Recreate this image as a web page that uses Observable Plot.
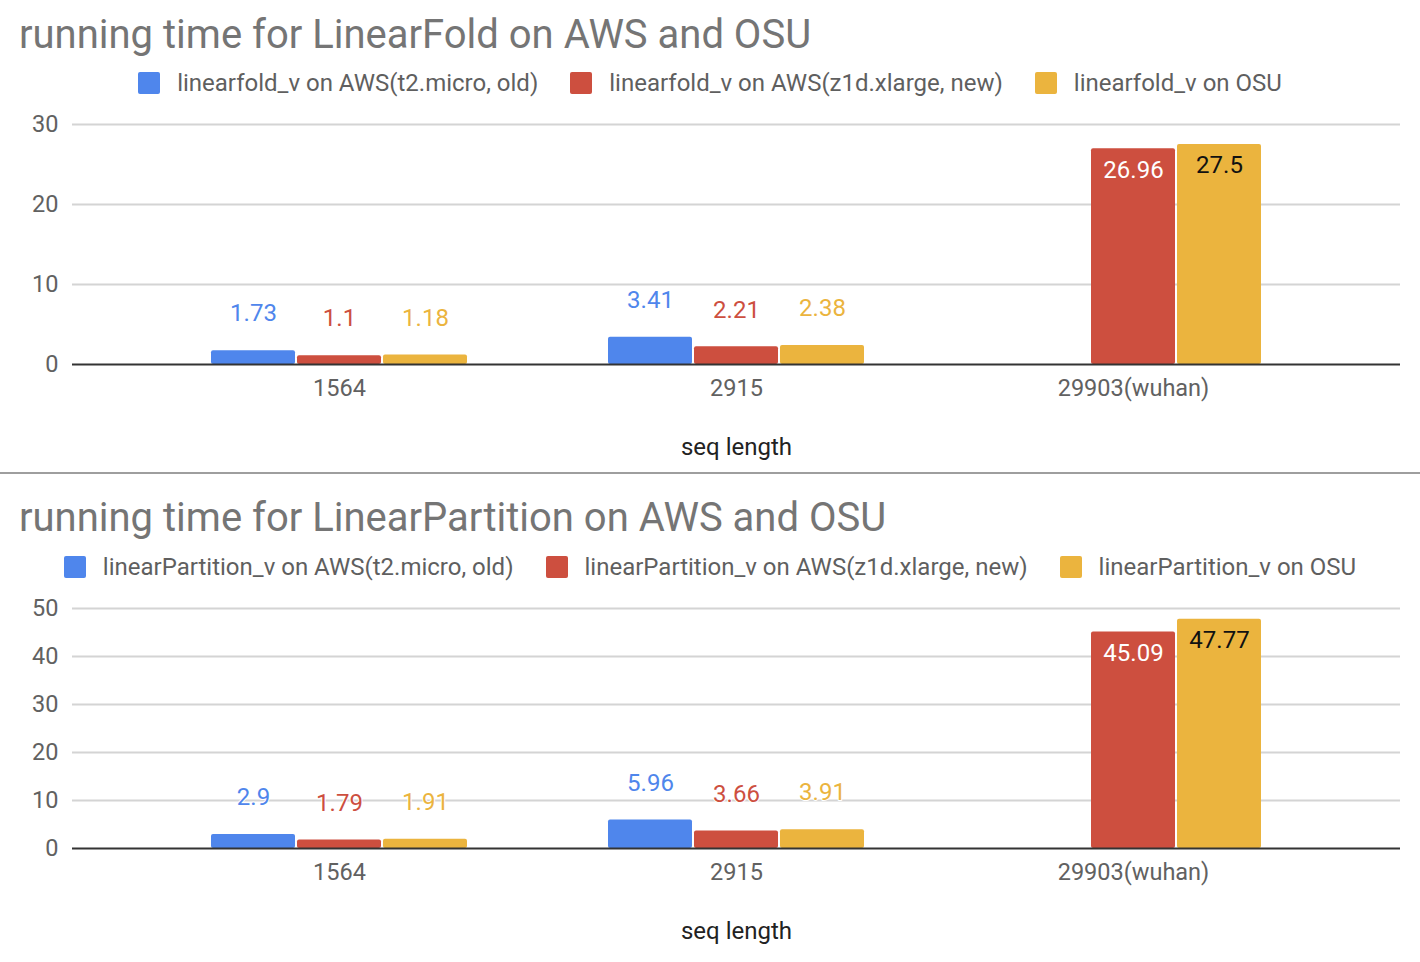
<!DOCTYPE html>
<html>
<head>
<meta charset="utf-8">
<script src="https://cdn.jsdelivr.net/npm/d3@7"></script>
<script src="https://cdn.jsdelivr.net/npm/@observablehq/plot@0.6"></script>
<style>
  html, body { margin: 0; padding: 0; background: #fff; }
  #root { position: relative; width: 1420px; height: 962px; overflow: hidden; font-family: Roboto, "Noto Sans", sans-serif; }
  .title { position: absolute; left: 19px; font-size: 40px; line-height: 40px; color: #757575; white-space: nowrap; }
  .legend { position: absolute; left: 0; width: 1420px; display: flex; justify-content: center; align-items: center; font-size: 24px; line-height: 24px; color: #5f5f5f; white-space: nowrap; }
  .legend .item { display: flex; align-items: center; margin: 0 16px; }
  .legend .sw { width: 22px; height: 22px; border-radius: 2px; margin-right: 17px; }
  .chart { position: absolute; left: 0; }
  .sep { position: absolute; left: 0; width: 1420px; height: 2px; background: #9e9e9e; }
</style>
</head>
<body>
<div id="root"></div>
<script>
// ---------- data ----------
const categories = ["1564", "2915", "29903(wuhan)"];

const foldTitle = "running time for LinearFold on AWS and OSU";
const foldSeries = ["linearfold_v on AWS(t2.micro, old)", "linearfold_v on AWS(z1d.xlarge, new)", "linearfold_v on OSU"];
const foldAwsOld = [1.73, 3.41, null];
const foldAwsNew = [1.1, 2.21, 26.96];
const foldOsu = [1.18, 2.38, 27.5];
const foldTicks = [0, 10, 20, 30];

const partTitle = "running time for LinearPartition on AWS and OSU";
const partSeries = ["linearPartition_v on AWS(t2.micro, old)", "linearPartition_v on AWS(z1d.xlarge, new)", "linearPartition_v on OSU"];
const partAwsOld = [2.9, 5.96, null];
const partAwsNew = [1.79, 3.66, 45.09];
const partOsu = [1.91, 3.91, 47.77];
const partTicks = [0, 10, 20, 30, 40, 50];

const xLabel = "seq length";
const colors = ["#4f86ec", "#cd4f3f", "#ebb43e"];
const insideText = ["#ffffff", "#ffffff", "#111111"];

// ---------- layout helpers ----------
const root = document.getElementById("root");
function addDiv(cls, top, html) {
  const d = document.createElement("div");
  d.className = cls;
  d.style.top = top + "px";
  if (html != null) d.innerHTML = html;
  root.appendChild(d);
  return d;
}
function addLegend(top, series) {
  const lg = addDiv("legend", top);
  series.forEach((s, j) => {
    const it = document.createElement("div");
    it.className = "item";
    const sw = document.createElement("div");
    sw.className = "sw";
    sw.style.background = colors[j];
    const tx = document.createElement("span");
    tx.textContent = s;
    it.appendChild(sw); it.appendChild(tx);
    lg.appendChild(it);
  });
}

function makeChart(series, valueArrays, ticks, height, marginBottom) {
  const rows = [];
  categories.forEach((c, i) => series.forEach((s, j) => {
    const v = valueArrays[j][i];
    if (v != null) rows.push({category: c, series: s, j, value: v});
  }));
  const yMax = ticks[ticks.length - 1];
  const barW = 84, gap = 2;
  const marks = [
    Plot.ruleY(ticks.filter(t => t !== 0), {stroke: "#d4d4d4", strokeWidth: 2})
  ];
  [0, 1, 2].forEach(j => {
    const sub = rows.filter(d => d.j === j);
    marks.push(Plot.barY(sub, {
      x: "category", y: "value", fill: colors[j], rx: 2,
      insetLeft: j * (barW + gap), insetRight: (2 - j) * (barW + gap)
    }));
    const small = sub.filter(d => d.value < yMax * 0.5);
    const tall = sub.filter(d => d.value >= yMax * 0.5);
    marks.push(Plot.text(small, {
      x: "category", y: "value", text: d => String(d.value),
      fill: colors[j], stroke: "white", strokeWidth: 2,
      dx: (j - 1) * (barW + gap), dy: -37, fontSize: 24
    }));
    marks.push(Plot.text(tall, {
      x: "category", y: "value", text: d => String(d.value),
      fill: insideText[j],
      dx: (j - 1) * (barW + gap), dy: 21, fontSize: 24
    }));
  });
  marks.push(Plot.ruleY([0], {stroke: "#333", strokeWidth: 2}));
  marks.push(Plot.text([xLabel], {frameAnchor: "bottom", text: d => d, dy: 90, fill: "#222", fontSize: 24}));
  return Plot.plot({
    width: 1420,
    height,
    marginLeft: 72,
    marginRight: 20,
    marginTop: 24,
    marginBottom,
    style: {fontFamily: "Roboto, 'Noto Sans', sans-serif", fontSize: "23.5px", color: "#616161", background: "white"},
    x: {domain: categories, paddingInner: 0.355, paddingOuter: 0.35, tickSize: 0, tickPadding: 15, label: null},
    y: {domain: [0, yMax], ticks: ticks.length - 1, tickSize: 0, tickPadding: 14, label: null},
    marks
  });
}

// ---------- panel 1 ----------
addDiv("title", 15, foldTitle);
addLegend(71, foldSeries);
const c1 = makeChart(foldSeries, [foldAwsOld, foldAwsNew, foldOsu], foldTicks, 370, 106);
const w1 = addDiv("chart", 100); w1.appendChild(c1);

addDiv("sep", 472);

// ---------- panel 2 ----------
addDiv("title", 498, partTitle);
addLegend(555, partSeries);
const c2 = makeChart(partSeries, [partAwsOld, partAwsNew, partOsu], partTicks, 378, 114);
const w2 = addDiv("chart", 584); w2.appendChild(c2);
</script>
</body>
</html>
